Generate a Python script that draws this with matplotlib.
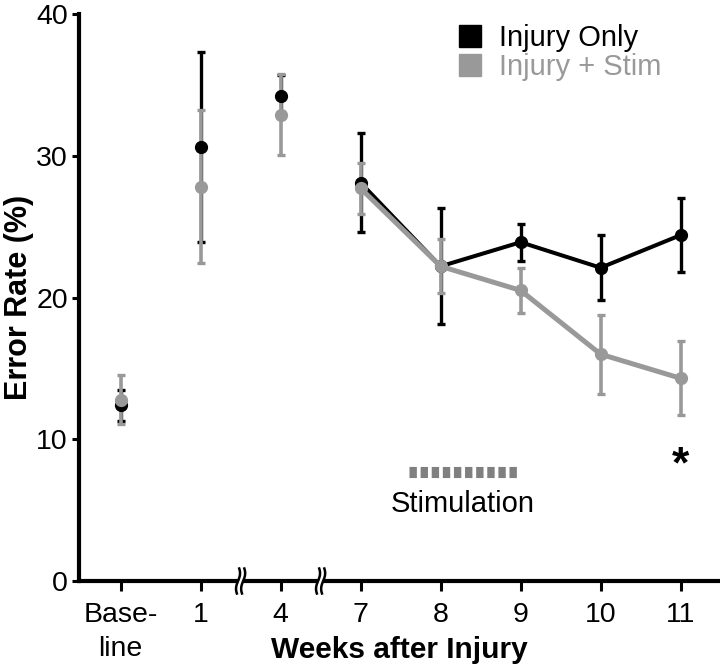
import numpy as np
from matplotlib import pyplot as plt
from matplotlib.lines import Line2D
import matplotlib.transforms as mtransforms

plt.rcParams['font.family'] = ['Liberation Sans', 'DejaVu Sans']
plt.rcParams['lines.scale_dashes'] = False

# data
week_labels = ['Base-\nline', '1', '4', '7', '8', '9', '10', '11']
only_mean = [12.4, 30.6, 34.2, 28.1, 22.2, 23.9, 22.1, 24.4]
only_err = [1.1, 6.7, 1.5, 3.5, 4.1, 1.3, 2.3, 2.6]
stim_mean = [12.8, 27.8, 32.9, 27.7, 22.2, 20.5, 16.0, 14.3]
stim_err = [1.7, 5.4, 2.85, 1.8, 1.9, 1.6, 2.8, 2.6]
first_connected = 3          # weeks 7..11 are joined by a line
stim_span = [3.6, 4.96]      # stimulation period on the week axis
stim_level = 7.7
signif_week = 7              # asterisk under week 11
signif_level = 7.3

black = '#000000'
gray = '#999999'

fig = plt.figure(figsize=(7.2, 6.7), dpi=100)
ax = fig.add_axes([79/720, 1-581/670, 640/720, 567/670])

x = np.arange(len(week_labels))

# error bars
ax.errorbar(x, only_mean, yerr=only_err, fmt='none', ecolor=black,
            elinewidth=2.4, capsize=3, capthick=2.4, zorder=2)
ax.errorbar(x, stim_mean, yerr=stim_err, fmt='none', ecolor=gray,
            elinewidth=2.6, capsize=3, capthick=2.4, zorder=3)

# points + lines
ax.plot(x[:first_connected], only_mean[:first_connected], 'o', color=black,
        ms=8.5, zorder=4)
ax.plot(x[first_connected:], only_mean[first_connected:], '-o', color=black,
        lw=2.9, ms=8.5, zorder=4)
ax.plot(x[:first_connected], stim_mean[:first_connected], 'o', color=gray,
        ms=8.5, zorder=5)
ax.plot(x[first_connected:], stim_mean[first_connected:], '-o', color=gray,
        lw=3.6, ms=8.5, zorder=5)

# stimulation bar
ax.plot(stim_span, [stim_level, stim_level], color='#808080', lw=8,
        dashes=(5.3, 2.7), solid_capstyle='butt', dash_capstyle='butt')
ax.text(np.mean(stim_span), 4.87, 'Stimulation', ha='center',
        va='baseline', fontsize=21)

# significance
ax.text(signif_week, signif_level, '*', ha='center', va='baseline',
        fontsize=32, fontweight='bold')

ax.set_xlim(-0.52, 7.48)
ax.set_ylim(0, 40)
ax.set_yticks([0, 10, 20, 30, 40])
ax.set_xticks(x)
ax.set_xticklabels(week_labels, linespacing=1.4)

for s in ['top', 'right']:
    ax.spines[s].set_visible(False)
for s in ['left', 'bottom']:
    ax.spines[s].set_linewidth(3)

ax.tick_params(axis='x', length=7, width=2.2, labelsize=20.5, pad=8)
ax.tick_params(axis='y', length=5, width=2.2, labelsize=20.5, pad=3)

ax.set_xlabel('Weeks after Injury', fontsize=21.5, fontweight='bold')
ax.xaxis.set_label_coords(0.5, -0.097)
ax.set_ylabel('Error Rate (%)', fontsize=22, fontweight='bold')
ax.yaxis.set_label_coords(-0.071, 0.5)

# axis break marks at 1.5 and 2.5
trans = mtransforms.blended_transform_factory(ax.transData, ax.transAxes)
t = np.linspace(-1, 1, 30)
yy = t * 0.022
for xb in [1.5, 2.5]:
    wave = 0.025 * np.sin(np.pi * t * 0.8)
    ax.fill_betweenx(yy, xb - 0.03 + wave, xb + 0.03 + wave, color='white',
                     transform=trans, clip_on=False, zorder=6, lw=0)
    for off in [-0.032, 0.032]:
        ax.plot(xb + off + wave, yy, color=black, lw=1.8, transform=trans,
                clip_on=False, zorder=7)

# legend
handles = [Line2D([], [], marker='s', ls='none', color=black, ms=16),
           Line2D([], [], marker='s', ls='none', color=gray, ms=16)]
leg = ax.legend(handles, ['Injury Only', 'Injury + Stim'], loc='upper left',
                bbox_to_anchor=(455/720, 1-24/670), bbox_transform=fig.transFigure,
                frameon=False, fontsize=21, handlelength=1.0, handletextpad=0.5,
                labelspacing=0.05, borderpad=0, borderaxespad=0)
leg.get_texts()[1].set_color(gray)

fig.savefig('out.png', dpi=100)
